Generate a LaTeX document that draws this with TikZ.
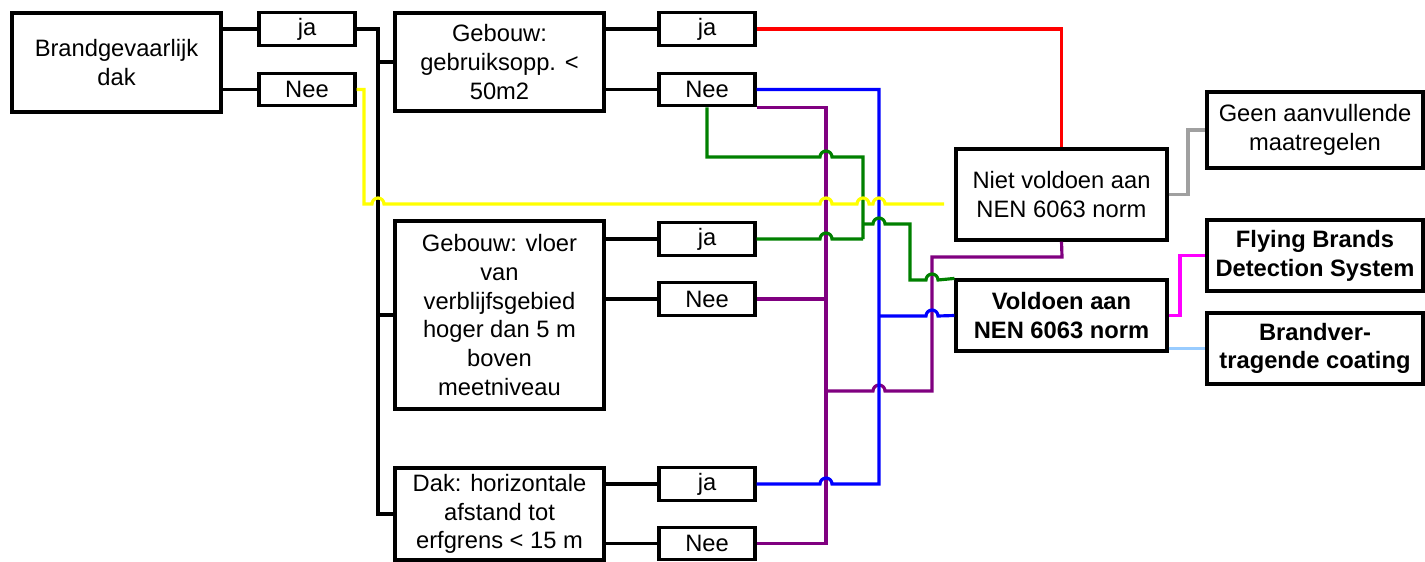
\documentclass[tikz,border=0pt]{standalone}
\usepackage{fontspec}
\setmainfont{Liberation Sans}
\usepackage{xcolor}
\usetikzlibrary{positioning}
\definecolor{ink}    {HTML}{000000}
\definecolor{lnred}  {HTML}{FF0000}
\definecolor{lnblue} {HTML}{0000FF}
\definecolor{lnpurp} {HTML}{800080}
\definecolor{lngreen}{HTML}{008000}
\definecolor{lnyel}  {HTML}{FFFF00}
\definecolor{lngray} {HTML}{A0A0A0}
\definecolor{lnmag}  {HTML}{FF00FF}
\definecolor{lnsky}  {HTML}{99CCFF}
\tikzset{
  box/.style  ={draw=ink, fill=white, line width=1.8pt,
                minimum width=4.18cm, align=center, inner sep=2pt,
                font=\fontsize{13.5}{16.4}\selectfont},
  ans/.style  ={box, minimum width=1.92cm, minimum height=0.65cm},
  res/.style  ={box, minimum width=4.22cm},
  outbox/.style={box, minimum width=4.32cm, minimum height=1.42cm},
  wire/.style ={draw=ink, line width=2pt},
  cwire/.style={line width=1.8pt},
}
\newcommand\hop{arc[start angle=180,end angle=0,radius=0.12cm]}

\begin{document}
\begin{tikzpicture}[x=0.02cm,y=0.02cm]
  \useasboundingbox (0,0) rectangle (1425,-561);

  % questions
  \node[box, minimum height=1.98cm] (dak) at (116.5,-62.5) {Brandgevaarlijk\\dak};
  \node[box, minimum height=1.96cm] (opp) at (499.5,-62) {Gebouw:\\gebruiksopp. <\\50m2};
  \node[box, minimum height=3.76cm] (vloer) at (499.5,-315)
    {Gebouw: vloer\\van\\verblijfsgebied\\hoger dan 5 m\\boven\\meetniveau};
  \node[box, minimum height=1.84cm] (hor) at (499.5,-514)
    {Dak: horizontale\\afstand tot\\erfgrens < 15 m};

  % answers
  \node[ans] (ja1)  at (307,-29)    {ja};
  \node[ans] (nee1) at (307,-89.5)  {Nee};
  \node[ans] (ja2)  at (707,-29)    {ja};
  \node[ans] (nee2) at (707,-89.5)  {Nee};
  \node[ans] (ja3)  at (707,-239)   {ja};
  \node[ans] (nee3) at (707,-299)   {Nee};
  \node[ans] (ja4)  at (707,-484)   {ja};
  \node[ans] (nee4) at (707,-543.5) {Nee};

  % results
  \node[res, minimum height=1.82cm] (niet) at (1061.5,-194.5) {Niet voldoen aan\\NEN 6063 norm};
  \node[res, minimum height=1.42cm, font=\fontsize{13.5}{16.4}\selectfont\bfseries]
    (vold) at (1061.5,-315.5) {Voldoen aan\\NEN 6063 norm};
  \node[outbox, minimum height=1.52cm] (geen) at (1315,-130) {Geen aanvullende\\maatregelen};
  \node[outbox, font=\fontsize{13.5}{16.4}\selectfont\bfseries] (fly) at (1315,-255.5)
    {Flying Brands\\Detection System};
  \node[outbox, font=\fontsize{13.5}{16.4}\selectfont\bfseries] (coat) at (1315,-348.5)
    {Brandver-\\tragende coating};

  \coordinate (t)  at (378,-29);
  \coordinate (pv) at (826,0);
  \coordinate (bv) at (879,0);
  \coordinate (yend) at (944,-204);

  % black tree
  \draw[wire] (dak.east |- ja1.west) -- (ja1.west);
  \draw[wire] (dak.east |- nee1.west) -- (nee1.west);
  \draw[wire] (ja1.east) -- (t) |- (hor.west);
  \draw[wire] (t |- opp.west) -- (opp.west);
  \draw[wire] (t |- vloer.west) -- (vloer.west);
  \draw[wire] (opp.east |- ja2.west) -- (ja2.west);
  \draw[wire] (opp.east |- nee2.west) -- (nee2.west);
  \draw[wire] (vloer.east |- ja3.west) -- (ja3.west);
  \draw[wire] (vloer.east |- nee3.west) -- (nee3.west);
  \draw[wire] (hor.east |- ja4.west) -- (ja4.west);
  \draw[wire] (hor.east |- nee4.west) -- (nee4.west);

  % coloured routes
  \draw[cwire, lnred] (ja2.east) -| (niet.north);
  \draw[cwire, lnpurp] (nee2.south east) -| (pv |- nee4.east) -- (nee4.east);
  \draw[cwire, lnpurp] (nee3.east) -- (pv |- nee3.east);
  \draw[cwire, lnpurp] (826,-391) -- (873,-391) \hop -- (932,-391) -- (932,-257)
    -- (1062,-257) -- (niet.south);
  \draw[cwire, lnblue] (ja4.east) -- (820,-484) \hop -- (bv |- ja4.east) |- (nee2.east);
  \draw[cwire, lnblue] (879,-316) -- (926,-316) \hop -- (vold.west);
  \draw[cwire, lngreen] (nee2.south) |- (820,-157) \hop -- (863,-157) -- (863,-239);
  \draw[cwire, lngreen] (ja3.east) -- (820,-239) \hop -- (863,-239);
  \draw[cwire, lngreen] (863,-224) -- (873,-224) \hop -- (910,-224) -- (910,-280)
    -- (926,-280) \hop -- (vold.north west);
  \draw[cwire, lnyel] (nee1.east) -- (364,-89.5) -- (364,-204) -- (372,-204) \hop
    -- (820,-204) \hop -- (857,-204) \hop -- (873,-204) \hop -- (yend);
  \draw[cwire, lngray] (niet.east) -- (1188,-194.5) |- (geen.west);
  \draw[cwire, lnmag] (vold.east) -- (1180,-315.5) |- (fly.west);
  \draw[cwire, lnsky] (coat.west -| vold.east) -- (coat.west);
\end{tikzpicture}
\end{document}
